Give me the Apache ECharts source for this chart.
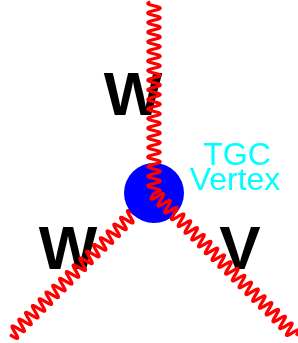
<!DOCTYPE html>
<html>
<head>
<meta charset="utf-8">
<script src="https://cdn.jsdelivr.net/npm/echarts@6/dist/echarts.min.js"></script>
<style>
  html, body { margin: 0; padding: 0; background: #fff; }
  #tgc { width: 298px; height: 343px; }
</style>
</head>
<body>
<div id="tgc"></div>
<script>
// vertex and the three boson legs, in picture units (y grows downward)
const vertex = [154, 193];
const legEnds = [[154, 2], [11, 336], [296, 336]];
const legFront = [true, false, true];
const bosons = ['W', 'W', 'V'];
const bosonAt = [[133, 98], [68, 252], [240, 252]];
const vertexText = ['TGC', 'Vertex'];
const vertexTextAt = [[237, 156], [235, 181]];

const legData = (front) => legEnds
  .filter((e, i) => legFront[i] === front)
  .map(e => [vertex[0], vertex[1], e[0], e[1]]);

// draws a photon-style wavy line between two points
function wavyLeg(params, api) {
  const p0 = api.coord([api.value(0), api.value(1)]);
  const p1 = api.coord([api.value(2), api.value(3)]);
  const dx = p1[0] - p0[0], dy = p1[1] - p0[1];
  const len = Math.hypot(dx, dy);
  const ux = dx / len, uy = dy / len;
  const amp = 6.2, period = 9.6;
  const pts = [];
  for (let t = 0; t <= len; t += 0.5) {
    const off = amp * Math.sin(2 * Math.PI * t / period);
    pts.push([p0[0] + ux * t - uy * off, p0[1] + uy * t + ux * off]);
  }
  return {
    type: 'polyline',
    shape: { points: pts },
    style: { stroke: '#ff0000', lineWidth: 3.2, fill: null, lineJoin: 'round' }
  };
}

function textItem(size, weight, color) {
  return function (params, api) {
    const p = api.coord([api.value(0), api.value(1)]);
    return {
      type: 'text',
      x: p[0], y: p[1],
      style: {
        text: api.value(2),
        fontSize: size,
        fontWeight: weight,
        fontFamily: 'Liberation Sans, Arial, sans-serif',
        fill: color,
        align: 'center',
        verticalAlign: 'middle'
      }
    };
  };
}

const chart = echarts.init(document.getElementById('tgc'));
chart.setOption({
  animation: false,
  grid: { left: 0, right: 0, top: 0, bottom: 0 },
  xAxis: { type: 'value', min: 0, max: 298, show: false },
  yAxis: { type: 'value', min: 0, max: 343, inverse: true, show: false },
  series: [
    {
      type: 'custom', z: 1,
      renderItem: textItem(62, 'bold', '#000000'),
      data: bosons.map((b, i) => [bosonAt[i][0], bosonAt[i][1], b])
    },
    {
      type: 'custom', z: 1,
      renderItem: textItem(32, 'normal', '#00ffff'),
      data: vertexText.map((s, i) => [vertexTextAt[i][0], vertexTextAt[i][1], s])
    },
    { type: 'custom', z: 2, renderItem: wavyLeg, data: legData(false) },
    {
      type: 'scatter', z: 3,
      symbol: 'circle', symbolSize: 60,
      itemStyle: { color: '#0000ff', opacity: 1 },
      data: [vertex]
    },
    { type: 'custom', z: 4, renderItem: wavyLeg, data: legData(true) }
  ]
});
</script>
</body>
</html>
